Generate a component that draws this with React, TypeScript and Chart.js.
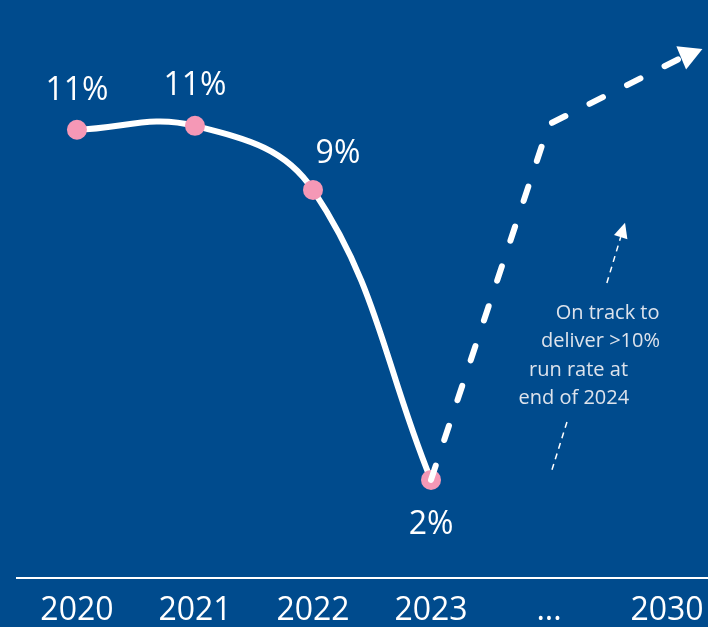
import React, { useEffect, useRef } from "react";
import { Chart, registerables } from "chart.js";

Chart.register(...registerables);

// ---- data ----
const xTickValues = [0, 1, 2, 3, 4, 5];
const xTickLabels = ["2020", "2021", "2022", "2023", "...", "2030"];

const yearIndex = [0, 1, 2, 3];
const marginLabels = [11, 11, 9, 2]; // % shown on chart
const plottedHeights = [10.96, 11.06, 9.42, 2.0]; // illustrative heights as drawn

const outlookX = [3, 4.0, 5.12];
const outlookY = [2.0, 11.1, 12.8];

const noteLines = ["On track to", "deliver >10%", "run rate at", "end of 2024"];

// annotation placement (in data units)
const noteX = [4.496, 4.436, 4.25, 4.21];
const noteY = [6.12, 5.41, 4.67, 3.95];
const hintLower = [[4.025, 2.26], [4.153, 3.49]];
const hintUpper = [[4.49, 7.04], [4.644, 8.58]];

// label offsets (px) relative to each point: [dx, dy] of text baseline centre
const labelOffsets = [[0, -30], [0, -31], [25, -27], [0, 54]];

const WHITE = "#ffffff";
const PINK = "#F598B6";
const BG = "#004B8D";
const FONT = "'Open Sans', 'DejaVu Sans', sans-serif";

const overlay = {
  id: "overlay",
  afterDatasetsDraw(chart: any) {
    const { ctx } = chart;
    const x = chart.scales.x;
    const y = chart.scales.y;
    ctx.save();

    // value labels
    ctx.fillStyle = WHITE;
    ctx.font = `32px ${FONT}`;
    ctx.textAlign = "center";
    ctx.textBaseline = "alphabetic";
    marginLabels.forEach((v, i) => {
      const px = x.getPixelForValue(yearIndex[i]);
      const py = y.getPixelForValue(plottedHeights[i]);
      const [dx, dy] = labelOffsets[i];
      ctx.fillText(`${v}%`, px + dx, py + dy);
    });

    // arrowhead for outlook line
    const n = outlookX.length;
    const ax1 = x.getPixelForValue(outlookX[n - 2]);
    const ay1 = y.getPixelForValue(outlookY[n - 2]);
    const ax2 = x.getPixelForValue(outlookX[n - 1]);
    const ay2 = y.getPixelForValue(outlookY[n - 1]);
    const ang = Math.atan2(ay2 - ay1, ax2 - ax1) + 0.07;
    const L = 23, W = 12.6;
    const ux = Math.cos(ang), uy = Math.sin(ang);
    ctx.beginPath();
    ctx.moveTo(ax2 + ux * L, ay2 + uy * L);
    ctx.lineTo(ax2 - uy * W, ay2 + ux * W);
    ctx.lineTo(ax2 + uy * W, ay2 - ux * W);
    ctx.closePath();
    ctx.fill();

    // small dashed hint arrow
    ctx.strokeStyle = WHITE;
    ctx.lineWidth = 1.5;
    ctx.setLineDash([6, 5]);
    ctx.beginPath();
    ctx.moveTo(x.getPixelForValue(hintLower[0][0]), y.getPixelForValue(hintLower[0][1]));
    ctx.lineTo(x.getPixelForValue(hintLower[1][0]), y.getPixelForValue(hintLower[1][1]));
    ctx.stroke();
    const hx0 = x.getPixelForValue(hintUpper[0][0]);
    const hy0 = y.getPixelForValue(hintUpper[0][1]);
    const hx1 = x.getPixelForValue(hintUpper[1][0]);
    const hy1 = y.getPixelForValue(hintUpper[1][1]);
    const hang = Math.atan2(hy1 - hy0, hx1 - hx0);
    const hux = Math.cos(hang), huy = Math.sin(hang);
    const HL = 15, HW = 7;
    ctx.beginPath();
    ctx.moveTo(hx0, hy0);
    ctx.lineTo(hx1 - hux * HL, hy1 - huy * HL);
    ctx.stroke();
    ctx.setLineDash([]);
    const bx = hx1 - hux * HL, by = hy1 - huy * HL;
    ctx.beginPath();
    ctx.moveTo(hx1, hy1);
    ctx.lineTo(bx - huy * HW, by + hux * HW);
    ctx.lineTo(bx + huy * HW, by - hux * HW);
    ctx.closePath();
    ctx.fill();

    // note text
    ctx.fillStyle = "#DDE3EC";
    ctx.font = `20px ${FONT}`;
    ctx.textAlign = "center";
    ctx.textBaseline = "alphabetic";
    noteLines.forEach((t, i) => {
      ctx.fillText(t, x.getPixelForValue(noteX[i]), y.getPixelForValue(noteY[i]));
    });

    ctx.restore();
  },
};

export default function App() {
  const ref = useRef<HTMLCanvasElement | null>(null);

  useEffect(() => {
    if (!ref.current) return;
    const chart = new Chart(ref.current, {
      type: "line",
      data: {
        datasets: [
          {
            label: "2023 point",
            data: [{ x: yearIndex[3], y: plottedHeights[3] }],
            showLine: false,
            pointRadius: 10,
            pointBackgroundColor: PINK,
            pointBorderWidth: 0,
            order: 2,
          },
          {
            label: "Margin",
            data: yearIndex.map((xv, i) => ({ x: xv, y: plottedHeights[i] })),
            borderColor: WHITE,
            borderWidth: 6,
            tension: 0.4,
            pointRadius: [10, 10, 10, 0],
            pointBackgroundColor: PINK,
            pointBorderWidth: 0,
            borderCapStyle: "round",
            order: 3,
          },
          {
            label: "Outlook",
            data: outlookX.map((xv, i) => ({ x: xv, y: outlookY[i] })),
            borderColor: WHITE,
            borderWidth: 6,
            borderDash: [15, 27],
            borderCapStyle: "round",
            borderJoinStyle: "round",
            tension: 0,
            pointRadius: 0,
            order: 1,
          },
        ],
      },
      options: {
        animation: false,
        responsive: false,
        events: [],
        layout: { autoPadding: false, padding: { left: 17, right: 0, top: 0, bottom: 0 } },
        plugins: { legend: { display: false }, tooltip: { enabled: false } },
        scales: {
          x: {
            type: "linear",
            min: -0.508,
            max: 5.347,
            grid: { display: false, drawTicks: false },
            border: { display: true, color: WHITE, width: 2 },
            afterBuildTicks: (s: any) => {
              s.ticks = xTickValues.map((v) => ({ value: v }));
            },
            afterFit: (s: any) => {
              s.paddingLeft = 0;
              s.paddingRight = 0;
            },
            ticks: {
              color: WHITE,
              font: { family: FONT, size: 32 },
              padding: 14,
              maxRotation: 0,
              autoSkip: false,
              callback: (v: any) => {
                const i = xTickValues.indexOf(Number(v));
                return i >= 0 ? xTickLabels[i] : "";
              },
            },
          },
          y: { display: false, min: -0.5, max: 14.28 },
        },
      },
      plugins: [overlay],
    });
    return () => chart.destroy();
  }, []);

  return (
    <div
      style={{
        position: "fixed",
        left: 0,
        top: 0,
        width: 708,
        height: 627,
        background: BG,
        overflow: "hidden",
      }}
    >
      <canvas ref={ref} width={708} height={644} style={{ display: "block" }} />
    </div>
  );
}
